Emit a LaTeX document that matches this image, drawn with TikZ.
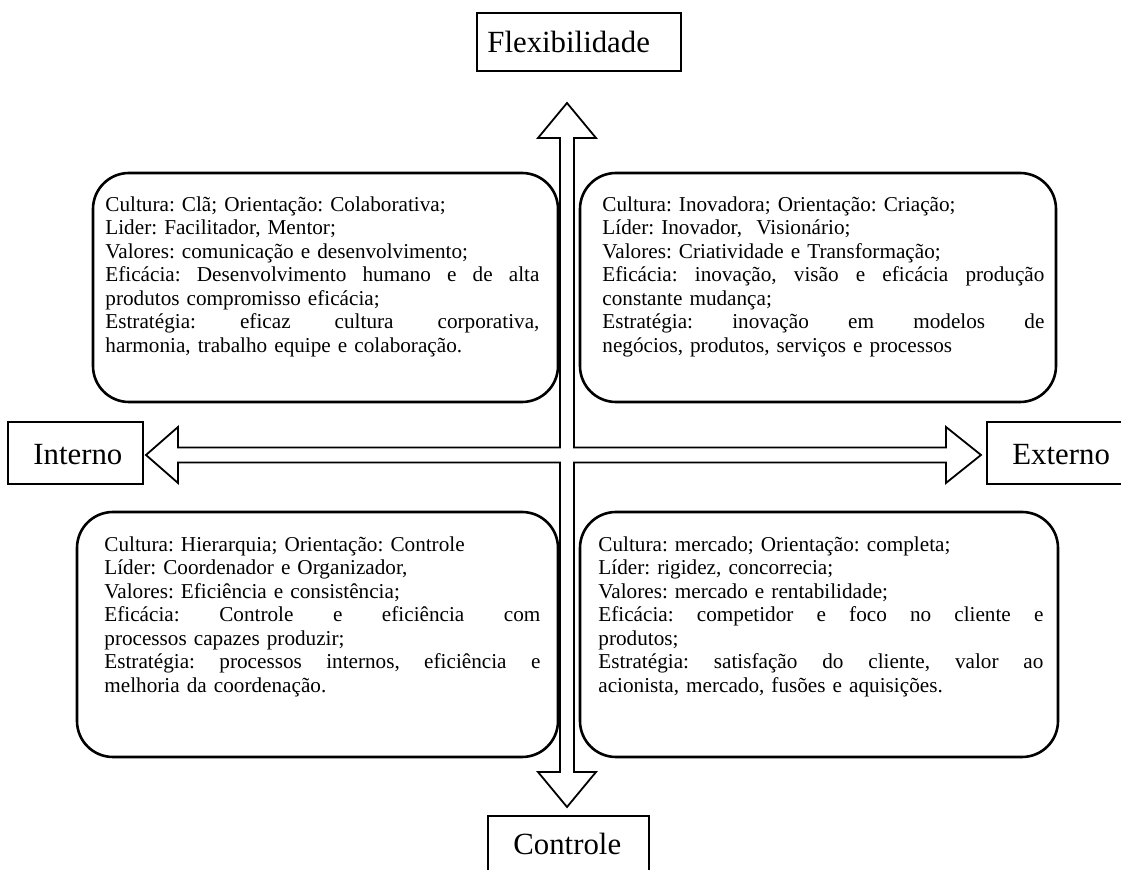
\documentclass[tikz,border=0pt]{standalone}
\usepackage{fontspec}
\setmainfont{Liberation Serif}
\frenchspacing
% a justified line of a given width: interword spaces are stretched
\newcommand\jline[2]{{\spaceskip=0pt\xspaceskip=0pt\makebox[#1][s]{#2}}}
\tikzset{
  lblbox/.style={draw, line width=0.9pt, inner sep=0pt},
  lbltext/.style={inner sep=0pt, anchor=base west, font=\fontsize{15.4}{18}\selectfont},
  qbox/.style={draw, line width=1.3pt, rounded corners=18pt, inner sep=0pt},
  qtext/.style={inner sep=0pt, anchor=north west, align=left, font=\fontsize{10.6}{11.75}\selectfont},
  crossline/.style={draw, line width=0.9pt, line join=miter}
}
\begin{document}
\begin{tikzpicture}[x=0.5pt,y=-0.5pt]
\clip (0,0) rectangle (1121,870);
\fill[white] (0,0) rectangle (1121,870);

% the four axis arrows as one cross-shaped outline
\draw[crossline]
  (567,103) -- (596,138) -- (574,138) -- (574,447.5) -- (946,447.5) -- (946,427)
  -- (981,455) -- (946,483) -- (946,462.5) -- (574,462.5) -- (574,772) -- (596,772)
  -- (567,807) -- (538,772) -- (560,772) -- (560,462.5) -- (178,462.5) -- (178,483)
  -- (146,455) -- (178,427) -- (178,447.5) -- (560,447.5) -- (560,138) -- (538,138)
  -- cycle;

% axis labels
\node[lblbox, minimum width=102pt, minimum height=29pt] (flexbox) at (579,42) {};
\node[lbltext] (flex) at (487,53) {Flexibilidade};
\node[lblbox, minimum width=67.5pt, minimum height=31pt] (intbox) at (75.5,453) {};
\node[lbltext] (int) at (33,465) {Interno};
\node[lblbox, minimum width=71.5pt, minimum height=31pt] (extbox) at (1058.5,453) {};
\node[lbltext] (ext) at (1012,465) {Externo};
\node[lblbox, minimum width=80.5pt, minimum height=42pt] (ctrlbox) at (568.5,858) {};
\node[lbltext] (ctrl) at (513,855) {Controle};

% quadrant boxes
\node[qbox, minimum width=232.5pt, minimum height=114.5pt] (tl) at (325.5,287.5) {};
\node[qbox, minimum width=238pt, minimum height=114.5pt] (tr) at (818,287.5) {};
\node[qbox, minimum width=240.5pt, minimum height=122.5pt] (bl) at (317.5,634.5) {};
\node[qbox, minimum width=239pt, minimum height=122.5pt] (br) at (819,634.5) {};

\node[qtext, text width=217pt] (tltext) at (105,196) {%
Cultura: Clã; Orientação: Colaborativa;\\
Lider: Facilitador, Mentor;\\
Valores: comunicação e desenvolvimento;\\
\jline{217pt}{Eficácia: Desenvolvimento humano e de alta}\\
produtos compromisso eficácia;\\
\jline{217pt}{Estratégia: eficaz cultura corporativa,}\\
harmonia, trabalho equipe e colaboração.};

\node[qtext, text width=221pt] (trtext) at (602,196) {%
Cultura: Inovadora; Orientação: Criação;\\
Líder: Inovador,\ \ Visionário;\\
Valores: Criatividade e Transformação;\\
\jline{221pt}{Eficácia: inovação, visão e eficácia produção}\\
constante mudança;\\
\jline{221pt}{Estratégia: inovação em modelos de}\\
negócios, produtos, serviços e processos};

\node[qtext, text width=218pt] (bltext) at (104,536) {%
Cultura: Hierarquia; Orientação: Controle\\
Líder: Coordenador e Organizador,\\
Valores: Eficiência e consistência;\\
\jline{218pt}{Eficácia: Controle e eficiência com}\\
processos capazes produzir;\\
\jline{218pt}{Estratégia: processos internos, eficiência e}\\
melhoria da coordenação.};

\node[qtext, text width=222.5pt] (brtext) at (598,536) {%
Cultura: mercado; Orientação: completa;\\
Líder: rigidez, concorrecia;\\
Valores: mercado e rentabilidade;\\
\jline{222.5pt}{Eficácia: competidor e foco no cliente e}\\
produtos;\\
\jline{222.5pt}{Estratégia: satisfação do cliente, valor ao}\\
acionista, mercado, fusões e aquisições.};
\end{tikzpicture}
\end{document}
